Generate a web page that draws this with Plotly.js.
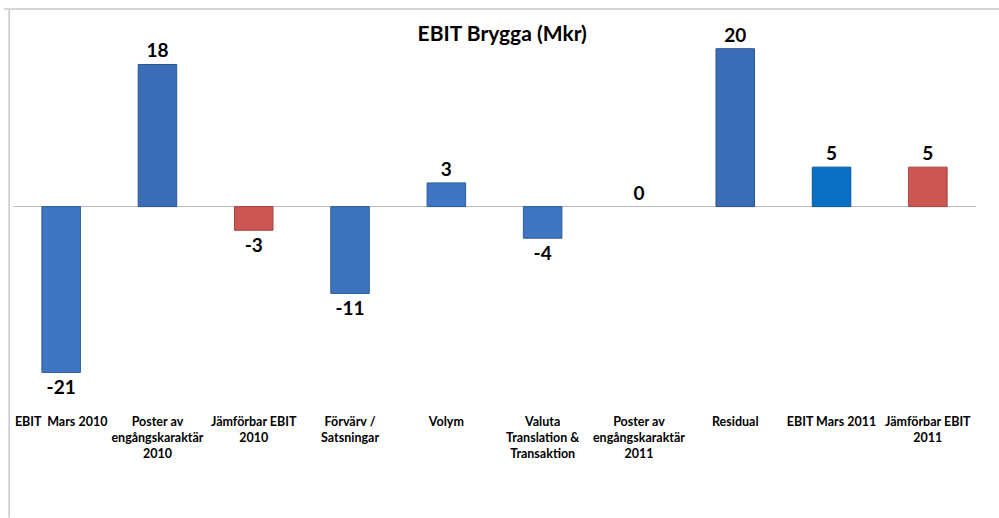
<!DOCTYPE html>
<html>
<head>
<meta charset="utf-8">
<script src="https://cdn.plot.ly/plotly-3.0.1.min.js"></script>
<style>html,body{margin:0;padding:0;background:#fff;}#chart{width:999px;height:518px;}</style>
</head>
<body>
<div id="chart"></div>
<script>
var categories = ["EBIT  Mars 2010", "Poster av<br>engångskaraktär<br>2010", "Jämförbar EBIT<br>2010", "Förvärv /<br>Satsningar", "Volym", "Valuta<br>Translation &<br>Transaktion", "Poster av<br>engångskaraktär<br>2011", "Residual", "EBIT Mars 2011", "Jämförbar EBIT<br>2011"];
var values = [-21, 18, -3, -11, 3, -4, 0, 20, 5, 5];
var barColors = ["#3f76c4", "#3a6db5", "#cd5653", "#3d72bd", "#3f76c4", "#3f76c4", "#3f76c4", "#3a6db5", "#0a70c6", "#cd5653"];
var lineColors = ["#2f5c9c", "#2b568f", "#a84340", "#2f5c9c", "#2f5c9c", "#2f5c9c", "#2f5c9c", "#2b568f", "#0858a0", "#a84340"];

var trace = {
  type: "bar",
  x: categories,
  y: values,
  text: values.map(String),
  textposition: "outside",
  cliponaxis: false,
  textfont: {family: "Lato, sans-serif", size: 19, color: "#000", weight: "bold"},
  marker: {color: barColors, line: {color: lineColors, width: values.map(function (v) { return v === 0 ? 0 : 1; })}},
  hoverinfo: "x+y"
};

var layout = {
  width: 999, height: 518,
  margin: {l: 13, r: 23, t: 25, b: 113.5},
  paper_bgcolor: "#fff", plot_bgcolor: "#fff",
  showlegend: false,
  bargap: 0.6,
  title: {text: "<b>EBIT Brygga (Mkr)</b>", x: 0.508, xref: "paper", y: 0.95, yref: "container", font: {family: "Lato, sans-serif", size: 21, color: "#000"}},
  xaxis: {showgrid: false, showline: false, ticks: "", ticklabelstandoff: 8, tickfont: {family: "Lato, sans-serif", size: 12.5, color: "#000", weight: "bold"}, tickangle: 0, automargin: false},
  yaxis: {range: [-25, 23], showgrid: false, showticklabels: false, zeroline: true, zerolinecolor: "#bdbdbd", zerolinewidth: 1.5, showline: false, ticks: ""},
  shapes: [
    {type: "line", xref: "paper", yref: "paper", x0: -0.009, x1: 1.03, y0: 1.042, y1: 1.042, line: {color: "#c8c8c8", width: 1.5}},
    {type: "line", xref: "paper", yref: "paper", x0: -0.004, x1: -0.004, y0: 1.042, y1: -0.3, line: {color: "#c8c8c8", width: 1.5}}
  ]
};

Plotly.newPlot("chart", [trace], layout, {displayModeBar: false, staticPlot: true});
</script>
</body>
</html>
